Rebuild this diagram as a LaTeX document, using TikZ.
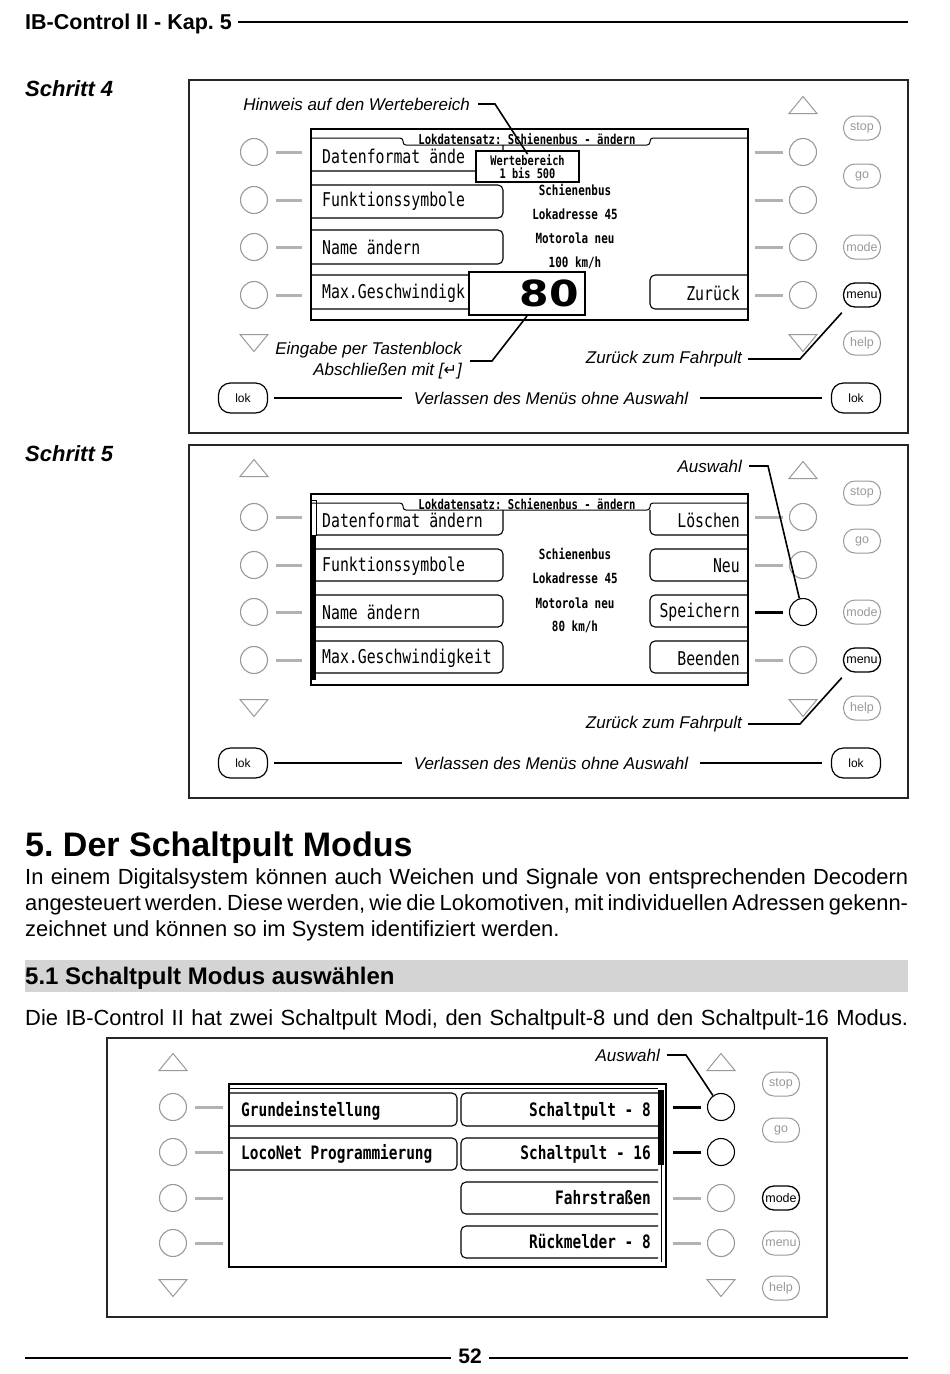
\documentclass[tikz,border=0pt]{standalone}
\usepackage{fontspec}
\usepackage{graphicx}
\setmainfont{Liberation Sans}
\newfontfamily\lcd{DejaVu Sans Mono}[FakeStretch=0.78]
\newfontfamily\djv{DejaVu Sans}
\usetikzlibrary{calc}
\definecolor{lg}{gray}{0.60}
\definecolor{dg}{gray}{0.70}
\definecolor{barg}{gray}{0.83}
\newcommand\fsz[2]{\fontsize{#1}{#2}\selectfont}
\frenchspacing
\tikzset{
  pframe/.style={draw=black!85, line width=2pt},
  circ/.style={circle, draw=lg, line width=1.1pt, minimum size=27pt, inner sep=0pt},
  dsh/.style={draw=dg, line width=3pt},
  tri/.style={draw=lg, line width=1pt, line join=miter},
  fbtn/.style={draw=lg, text=lg, rounded corners=11.5pt, minimum width=37pt, minimum height=24pt, inner sep=0pt, line width=1pt, font=\fsz{12.5}{14}},
  fbon/.style={fbtn, draw=black, text=black, line width=1.3pt},
  lokbtn/.style={draw=black, rounded corners=12pt, minimum width=49pt, minimum height=30pt, inner sep=0pt, line width=1.2pt, font=\fsz{12}{14}},
  cltxt/.style={font=\itshape\fsz{17}{21}, inner sep=0pt},
  cline/.style={draw=black, line width=1.6pt},
  lcdframe/.style={draw=black, line width=1.2pt},
  lbtn/.style={draw=black, line width=1.1pt, rounded corners=5pt},
  lcdtxt/.style={font=\lcd\fsz{19}{22}, inner sep=0pt},
  lcdbt/.style={font=\lcd\bfseries\fsz{18.5}{22}, inner sep=0pt},
  lcdsm/.style={font=\lcd\bfseries\fsz{14}{16}, inner sep=0pt},
}
\newcommand\uptri[2]{\draw[tri] (#1-14,#2+8.5) -- (#1+14,#2+8.5) -- (#1,#2-8.5) -- cycle;}
\newcommand\dntri[2]{\draw[tri] (#1-14,#2-8.5) -- (#1+14,#2-8.5) -- (#1,#2+8.5) -- cycle;}
% control panel (Schritt 4/5): #1 prefix, #2 y offset, #3 active right row
\newcommand\ctrlpanel[3]{%
  \draw[pframe] (189,80+#2) rectangle (908,433+#2);
  \foreach \i/\yy in {1/152,2/200,3/247,4/295}{
    \ifnum\i=#3 \def\cc{black}\def\dc{black}\else\def\cc{lg}\def\dc{dg}\fi
    \node[circ] (#1L\i) at (254,\yy+#2) {};
    \node[circ, draw=\cc] (#1R\i) at (803,\yy+#2) {};
    \draw[dsh] (276,\yy+#2) -- (302,\yy+#2);
    \draw[dsh, draw=\dc] (755,\yy+#2) -- (783,\yy+#2);
  }
  \uptri{803}{105+#2}
  \dntri{803}{343+#2}
  \dntri{254}{343+#2}
  \node[fbtn] (#1stop) at (862,128+#2) {stop};
  \node[fbtn] (#1go) at (862,176+#2) {go};
  \node[fbtn] (#1mode) at (862,247+#2) {mode};
  \node[fbon] (#1menu) at (862,295+#2) {menu};
  \node[fbtn] (#1help) at (862,343+#2) {help};
  \node[lokbtn] (#1lokL) at (243,398+#2) {lok};
  \node[lokbtn] (#1lokR) at (856,398+#2) {lok};
  \node[cltxt, inner xsep=12pt] (#1verl) at (551,398+#2) {Verlassen des Menüs ohne Auswahl};
  \draw[cline, shorten <=6pt] (#1lokL) -- (#1verl);
  \draw[cline, shorten >=9pt] (#1verl) -- (#1lokR);
  \node[cltxt, anchor=east] (#1zf) at (742,359+#2) {Zurück zum Fahrpult};
  \draw[cline] ([xshift=6pt]#1zf.east) -- ([xshift=58pt]#1zf.east) -- ([shift={(-1pt,-5pt)}]#1menu.south west);
  \begin{scope}[shift={(311,129+#2)}]
    \draw[lcdframe] (0,0) rectangle (437,191);
    \draw[line width=1pt, rounded corners=3pt] (0,9) -- (92,9) -- (92,16) -- (339,16) -- (339,9) -- (437,9);
    \node[lcdsm, font=\lcd\bfseries\fsz{13.6}{16}] (#1title) at (216,10.5) {Lokdatensatz: Schienenbus - ändern};
  \end{scope}
}

\begin{document}
\begin{tikzpicture}[x=1pt, y=-1pt]
\useasboundingbox (0,0) rectangle (950,1374);
\fill[white] (0,0) rectangle (950,1374);

% ---------- header ----------
\node[anchor=base west, inner sep=0pt, font=\bfseries\fsz{21.5}{24}] (hdr) at (25,29) {IB-Control II - Kap. 5};
\coordinate (hdrend) at (908,22);
\draw[line width=2pt] ([xshift=6pt]hdr.east |- hdrend) -- (hdrend);

\node[anchor=base west, inner sep=0pt, font=\bfseries\itshape\fsz{22}{26}] (s4) at (25,96) {Schritt 4};
\node[anchor=base west, inner sep=0pt, font=\bfseries\itshape\fsz{22}{26}] (s5) at (25,461) {Schritt 5};

% ---------- Schritt 4 ----------
\ctrlpanel{pA}{0}{0}
\begin{scope}[shift={(311,129)}]
  % left buttons
  \draw[lbtn] (0,42) -- (192,42) -- (192,16);
  \draw[lbtn] (0,56) -- (192,56) -- (192,89) -- (0,89);
  \draw[lbtn] (0,101) -- (192,101) -- (192,135) -- (0,135);
  \draw[lbtn] (0,146) -- (192,146) -- (192,180) -- (0,180);
  \node[lcdtxt, anchor=west] (pAt1) at (11,27) {Datenformat ände};
  \node[lcdtxt, anchor=west] (pAt2) at (11,72) {Funktionssymbole};
  \node[lcdtxt, anchor=west] (pAt3) at (11,118) {Name ändern};
  \node[lcdtxt, anchor=west] (pAt4) at (11,164) {Max.Geschwindigk};
  % right button
  \draw[lbtn] (437,146) -- (339,146) -- (339,180) -- (437,180);
  \node[lcdtxt, anchor=east] (pAr4) at (429,164) {Zurück};
  % info
  \node[lcdsm] (pAi1) at (264,61) {Schienenbus};
  \node[lcdsm] (pAi2) at (264,85) {Lokadresse 45};
  \node[lcdsm] (pAi3) at (264,109) {Motorola neu};
  \node[lcdsm] (pAi4) at (264,134) {100 km/h};
  % overlays
  \node[draw, line width=1.8pt, fill=white, minimum width=103pt, minimum height=31pt, inner sep=0pt, align=center, font=\lcd\bfseries\fsz{13.2}{13.5}] (pAwb) at (216.5,37.5) {Wertebereich\\1 bis 500};
  \node[draw, line width=2pt, fill=white, text width=104pt, inner xsep=6pt, inner ysep=0pt, minimum height=43pt, align=right, font=\djv\bfseries\fsz{36}{40}] (pAval) at (216,164.5) {\scalebox{1.18}[1]{80}};
\end{scope}
% callouts Schritt 4
\node[cltxt, anchor=east] (pAhint) at (470,104) {Hinweis auf den Wertebereich};
\draw[cline] ([xshift=8pt]pAhint.east) -- ([xshift=25pt]pAhint.east) -- ([yshift=-4pt]pAwb.north);
\node[cltxt, anchor=east, align=right] (pAeing) at (462,361) {Eingabe per Tastenblock\\[0pt]Abschließen mit [{\djv\fsz{16}{21}\symbol{"21B5}}]};
\draw[cline] ([xshift=8pt]pAeing.east) -- ([xshift=30pt]pAeing.east) -- (pAval.south);

% ---------- Schritt 5 ----------
\ctrlpanel{pB}{365}{3}
\uptri{254}{468}
\begin{scope}[shift={(311,494)}]
  \draw[line width=0.6pt] (0,6) rectangle (5,41);
  \fill (0,41) rectangle (5,186);
  \draw[lbtn] (5,41) -- (192,41) -- (192,16);
  \draw[lbtn] (5,55) -- (192,55) -- (192,87) -- (5,87);
  \draw[lbtn] (5,101) -- (192,101) -- (192,133) -- (5,133);
  \draw[lbtn] (5,147) -- (192,147) -- (192,179) -- (5,179);
  \node[lcdtxt, anchor=west] (pBt1) at (11,26) {Datenformat ändern};
  \node[lcdtxt, anchor=west] (pBt2) at (11,72) {Funktionssymbole};
  \node[lcdtxt, anchor=west] (pBt3) at (11,118) {Name ändern};
  \node[lcdtxt, anchor=west] (pBt4) at (11,164) {Max.Geschwindigkeit};
  \draw[lbtn] (437,41) -- (339,41) -- (339,16);
  \draw[lbtn] (437,55) -- (339,55) -- (339,87) -- (437,87);
  \draw[lbtn] (437,101) -- (339,101) -- (339,133) -- (437,133);
  \draw[lbtn] (437,147) -- (339,147) -- (339,179) -- (437,179);
  \node[lcdtxt, anchor=east] (pBr1) at (429,26) {Löschen};
  \node[lcdtxt, anchor=east] (pBr2) at (429,72) {Neu};
  \node[lcdtxt, anchor=east] (pBr3) at (429,118) {Speichern};
  \node[lcdtxt, anchor=east] (pBr4) at (429,164) {Beenden};
  \node[lcdsm] (pBi1) at (264,60) {Schienenbus};
  \node[lcdsm] (pBi2) at (264,84) {Lokadresse 45};
  \node[lcdsm] (pBi3) at (264,109) {Motorola neu};
  \node[lcdsm] (pBi4) at (264,133) {80 km/h};
\end{scope}
\node[cltxt, anchor=east] (pBausw) at (742,466) {Auswahl};
\draw[cline] ([xshift=7pt]pBausw.east) -- ([xshift=26pt]pBausw.east) -- (pBR3.105);

% ---------- text ----------
\node[anchor=base west, inner sep=0pt, font=\bfseries\fsz{34}{40}] (ttl) at (25,856) {5. Der Schaltpult Modus};
\node[anchor=base west, inner sep=0pt, font=\fsz{21.9}{26}] (bd1) at (25,884) {\makebox[883pt][s]{In einem Digitalsystem können auch Weichen und Signale von entsprechenden Decodern}};
\node[anchor=base west, inner sep=0pt, font=\fsz{21.9}{26}] (bd2) at (25,910) {\makebox[883pt][s]{angesteuert werden. Diese werden, wie die Lokomotiven, mit individuellen Adressen gekenn-}};
\node[anchor=base west, inner sep=0pt, font=\fsz{21.9}{26}] (bd3) at (25,936) {zeichnet und können so im System identifiziert werden.};
\fill[barg] (25,960) rectangle (908,992);
\node[anchor=base west, inner sep=0pt, font=\bfseries\fsz{24}{28}] (sub) at (25,984) {5.1 Schaltpult Modus auswählen};
\node[anchor=base west, inner sep=0pt, font=\fsz{21.9}{26}] (bd4) at (25,1025) {\makebox[883pt][s]{Die IB-Control II hat zwei Schaltpult Modi, den Schaltpult-8 und den Schaltpult-16 Modus.}};

% ---------- panel 3 ----------
\draw[pframe] (107,1038) rectangle (827,1317);
\foreach \i/\yy in {1/1107,2/1152,3/1198,4/1243}{
  \ifnum\i<3 \def\cc{black}\def\dc{black}\else\def\cc{lg}\def\dc{dg}\fi
  \node[circ] (pCL\i) at (173,\yy) {};
  \node[circ, draw=\cc] (pCR\i) at (721,\yy) {};
  \draw[dsh] (195,\yy) -- (223,\yy);
  \draw[dsh, draw=\dc] (673,\yy) -- (701,\yy);
}
\uptri{173}{1062}
\dntri{173}{1288}
\uptri{721}{1062}
\dntri{721}{1288}
\node[fbtn] (pCstop) at (781,1084) {stop};
\node[fbtn] (pCgo) at (781,1130) {go};
\node[fbon] (pCmode) at (781,1198) {mode};
\node[fbtn] (pCmenu) at (781,1243) {menu};
\node[fbtn] (pChelp) at (781,1288) {help};
\begin{scope}[shift={(229,1084)}]
  \draw[lcdframe] (0,0) rectangle (437,183);
  \draw[line width=0.8pt] (0,4.5) -- (429,4.5);
  \draw[lbtn] (0,9) -- (228,9) -- (228,42) -- (0,42);
  \draw[lbtn] (0,54) -- (228,54) -- (228,86) -- (0,86);
  \draw[lbtn] (429,9) -- (232,9) -- (232,42) -- (429,42);
  \draw[lbtn] (429,54) -- (232,54) -- (232,86) -- (429,86);
  \draw[lbtn] (429,98) -- (232,98) -- (232,130) -- (429,130);
  \draw[lbtn] (429,142) -- (232,142) -- (232,174) -- (429,174);
  \fill (429,6) rectangle (435,81);
  \draw[line width=1pt] (432,81) -- (432,178);
  \node[lcdbt, anchor=west] (pCt1) at (12,27) {Grundeinstellung};
  \node[lcdbt, anchor=west] (pCt2) at (12,70) {LocoNet Programmierung};
  \node[lcdbt, anchor=east] (pCr1) at (422,27) {Schaltpult -  8};
  \node[lcdbt, anchor=east] (pCr2) at (422,70) {Schaltpult - 16};
  \node[lcdbt, anchor=east] (pCr3) at (422,114) {Fahrstraßen};
  \node[lcdbt, anchor=east] (pCr4) at (422,157) {Rückmelder -  8};
\end{scope}
\node[cltxt, anchor=east] (pCausw) at (660,1055) {Auswahl};
\draw[cline] ([xshift=7pt]pCausw.east) -- ([xshift=26pt]pCausw.east) -- (pCR1.125);

% ---------- footer ----------
\node[inner sep=0pt, anchor=base, font=\bfseries\fsz{21}{24}] (pg) at (470,1363) {52};
\coordinate (fl) at (25,1358);
\coordinate (fr) at (908,1358);
\draw[line width=2pt] (fl) -- ([xshift=-7pt]pg.west |- fl);
\draw[line width=2pt] ([xshift=7pt]pg.east |- fr) -- (fr);
\end{tikzpicture}
\end{document}
